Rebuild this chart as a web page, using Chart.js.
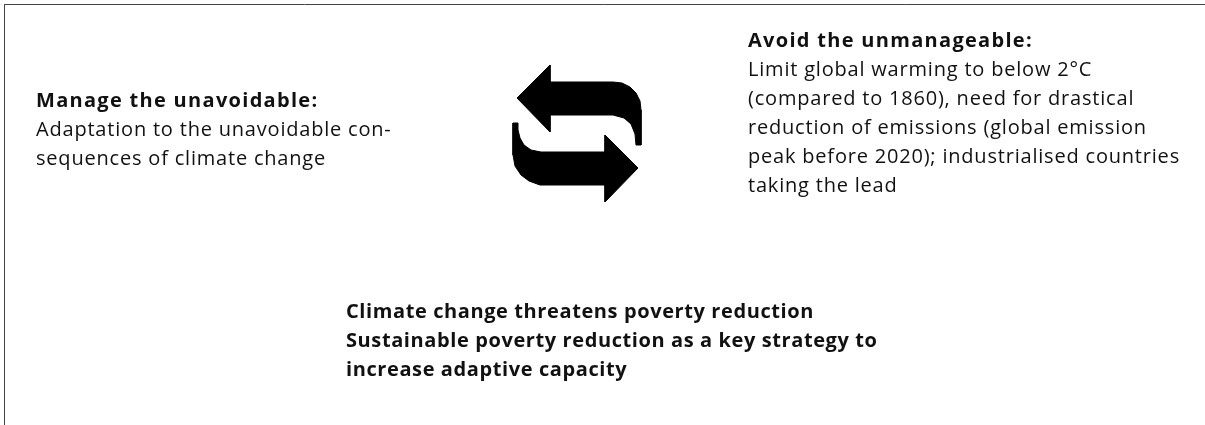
<!DOCTYPE html>
<html>
<head>
<meta charset="utf-8">
<script src="https://cdn.jsdelivr.net/npm/chart.js@4"></script>
<style>
  html, body { margin: 0; padding: 0; background: #fff; }
  #wrap { width: 1205px; height: 425px; }
</style>
</head>
<body>
<div id="wrap"><canvas id="diagram" width="1205" height="425"></canvas></div>
<script>
// --- content ---
const leftHeading = "Manage the unavoidable:";
const leftLines = [
  "Adaptation to the unavoidable con-",
  "sequences of climate change",
];
const rightHeading = "Avoid the unmanageable:";
const rightLines = [
  "Limit global warming to below 2°C",
  "(compared to 1860), need for drastical",
  "reduction of emissions (global emission",
  "peak before 2020); industrialised countries",
  "taking the lead",
];
const bottomLines = [
  "Climate change threatens poverty reduction",
  "Sustainable poverty reduction as a key strategy to",
  "increase adaptive capacity",
];

// arrow outlines, in figure pixels (x right, y down)
const arrowLeft = [
  [517, 98], [550, 65], [550, 82], [613, 82], [622, 83], [630, 87], [636, 93],
  [640, 101], [641, 110], [641, 145], [636, 145], [635, 134], [631, 124],
  [624, 118], [613, 115], [550, 115], [550, 132], [517, 98],
];
const arrowRight = [
  [638, 168], [605, 135], [605, 152], [541, 152], [531, 150], [524, 145],
  [520, 138], [518, 130], [518, 123], [513, 123], [513, 155], [515, 166],
  [521, 175], [529, 181], [540, 185], [605, 185], [605, 202], [638, 168],
];

// frame: top rule and left rule
const frameTop = [[4.5, 4.5], [1205, 4.5]];
const frameLeft = [[4.5, 4.5], [4.5, 425]];

// --- layout ---
const W = 1205, H = 425;
const LINE = 29;
const FONT = '"Open Sans", sans-serif';
const REGULAR = { font: `20px ${FONT}`, spacing: "0.8px" };
const HEADING = { font: `bold 20px ${FONT}`, spacing: "1.3px" };
const BOLD = { font: `bold 20px ${FONT}`, spacing: "0.6px" };
const blocks = [
  { x: 36, y: 101, heading: leftHeading, lines: leftLines, style: REGULAR },
  { x: 748, y: 41, heading: rightHeading, lines: rightLines, style: REGULAR },
  { x: 346, y: 312, heading: null, lines: bottomLines, style: BOLD },
];

const toPts = (arr) => arr.map(([x, y]) => ({ x, y }));

function setFont(ctx, style) {
  ctx.font = style.font;
  if ("letterSpacing" in ctx) ctx.letterSpacing = style.spacing;
}

const textPlugin = {
  id: "diagramText",
  afterDatasetsDraw(chart) {
    const { ctx, scales } = chart;
    const px = (v) => scales.x.getPixelForValue(v);
    const py = (v) => scales.y.getPixelForValue(v);
    ctx.save();
    ctx.fillStyle = "#111";
    ctx.textBaseline = "middle";
    ctx.textAlign = "left";
    for (const b of blocks) {
      let row = 0;
      if (b.heading) {
        setFont(ctx, HEADING);
        ctx.fillText(b.heading, px(b.x), py(b.y));
        row++;
      }
      setFont(ctx, b.style);
      for (const line of b.lines) {
        ctx.fillText(line, px(b.x), py(b.y + row * LINE));
        row++;
      }
    }
    ctx.restore();
  },
};

const shape = (data, extra = {}) => ({
  data: toPts(data),
  showLine: true,
  pointRadius: 0,
  borderWidth: 0,
  tension: 0,
  ...extra,
});

new Chart(document.getElementById("diagram"), {
  type: "scatter",
  data: {
    datasets: [
      shape(frameTop, { borderColor: "#444", borderWidth: 1, fill: false }),
      shape(frameLeft, { borderColor: "#444", borderWidth: 1, fill: false }),
      shape(arrowLeft, { borderColor: "#000", backgroundColor: "#000", borderWidth: 1, fill: "shape" }),
      shape(arrowRight, { borderColor: "#000", backgroundColor: "#000", borderWidth: 1, fill: "shape" }),
    ],
  },
  options: {
    responsive: false,
    animation: false,
    layout: { padding: 0 },
    plugins: { legend: { display: false }, tooltip: { enabled: false } },
    scales: {
      x: { type: "linear", min: 0, max: W, display: false },
      y: { type: "linear", min: 0, max: H, reverse: true, display: false },
    },
  },
  plugins: [textPlugin],
});
</script>
</body>
</html>
